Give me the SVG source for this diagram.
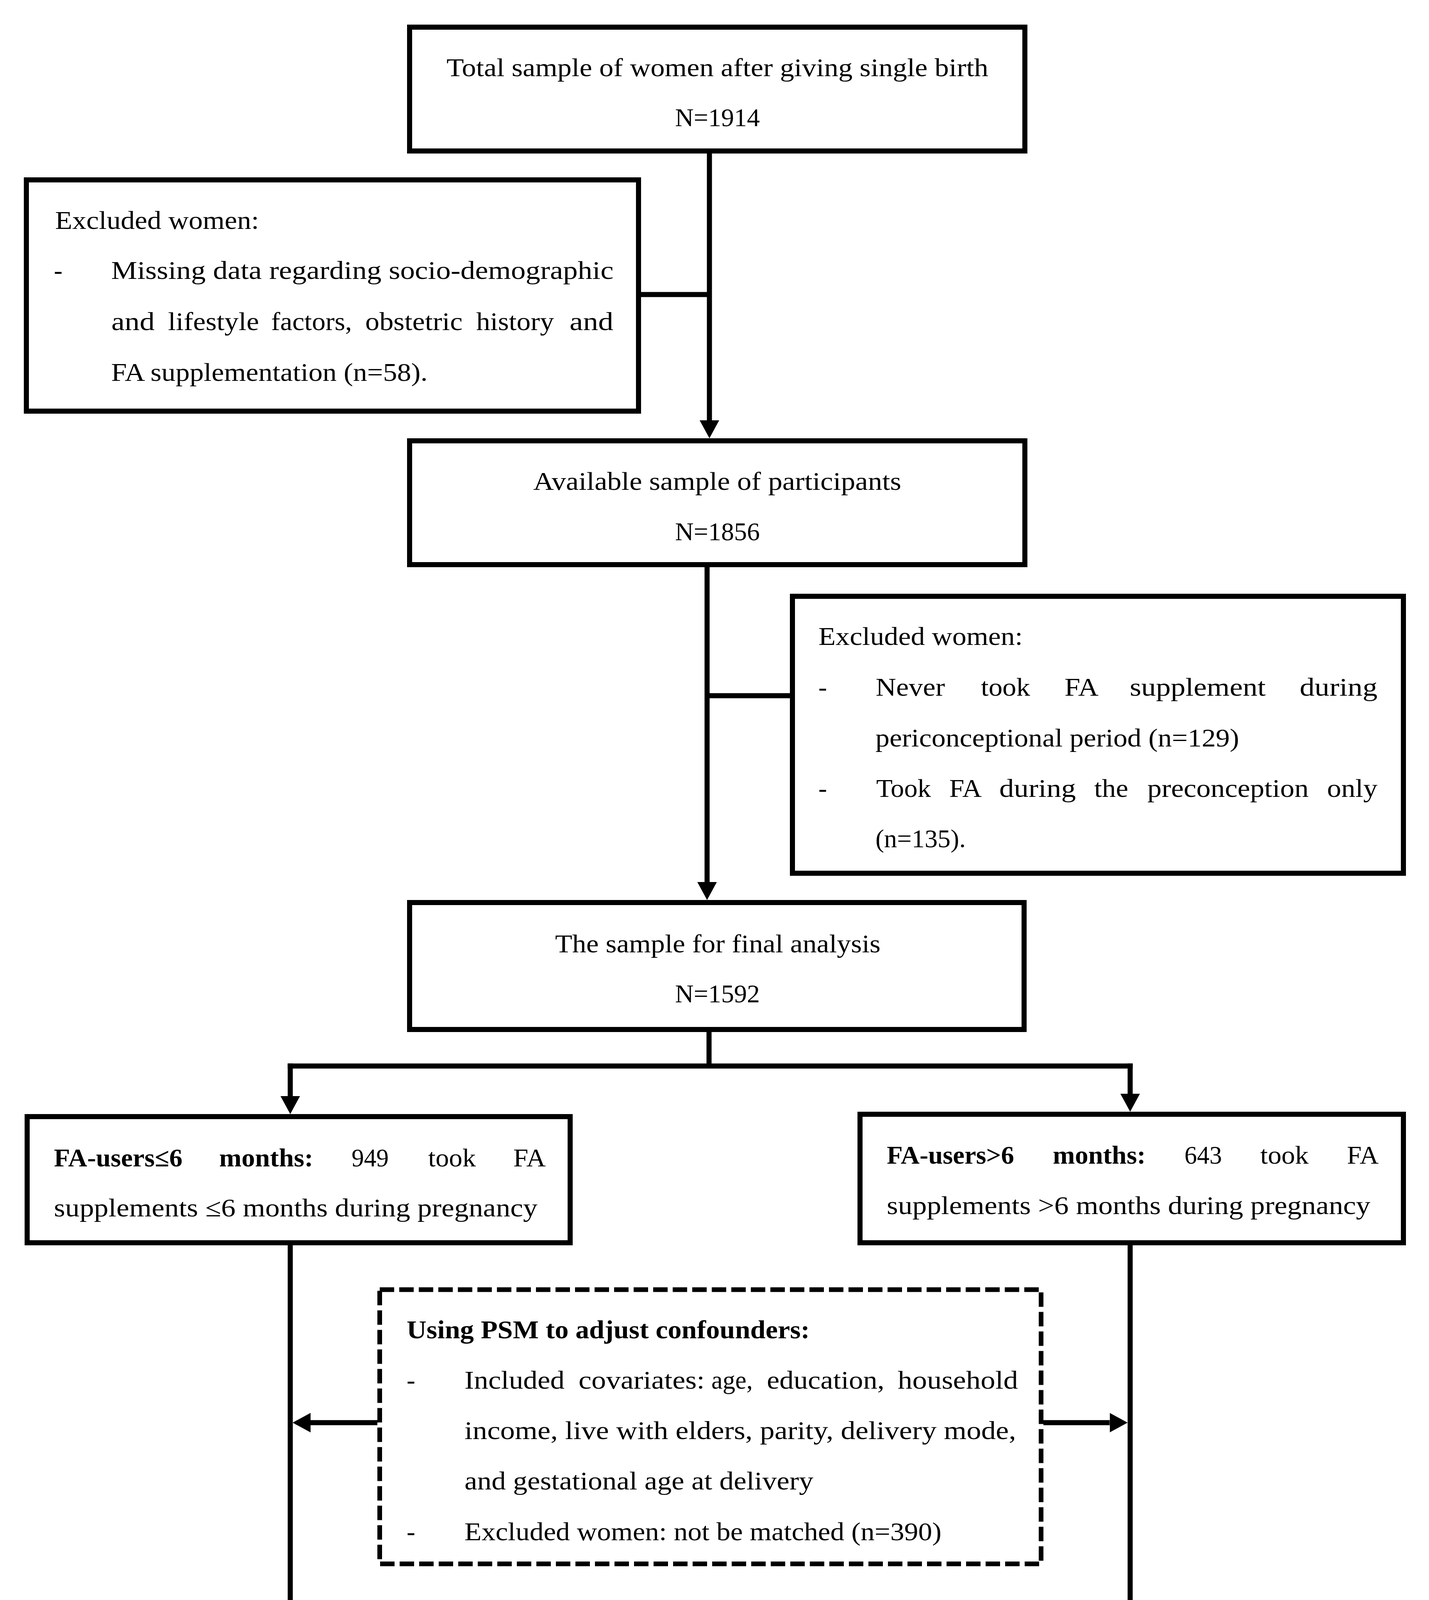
<svg xmlns="http://www.w3.org/2000/svg" width="3658" height="4548" viewBox="0 0 3658 4548">
<style>
.box{fill:#fff;stroke:#000;stroke-width:13}
.dash{fill:#fff;stroke:#000;stroke-width:12;stroke-dasharray:37 13}
.ln{fill:none;stroke:#000;stroke-width:13}
.arr{fill:none;stroke:#000;stroke-width:13;marker-end:url(#ah)}
text{font-family:"Liberation Serif","Times New Roman",serif;font-size:66px;fill:#000}
.b{font-weight:bold}
</style>
<defs>
<marker id="ah" markerUnits="userSpaceOnUse" markerWidth="46" markerHeight="50" viewBox="0 0 46 50" refX="0" refY="25" orient="auto">
<path d="M0,0 L46,25 L0,50 Z" fill="#000"/>
</marker>
</defs>
<rect width="3658" height="4548" fill="#fff"/>

<g id="connectors">
<line class="arr" x1="1816" y1="393" x2="1816" y2="1076"/>
<line class="ln" x1="1641" y1="754" x2="1822" y2="754"/>
<line class="arr" x1="1810" y1="1452" x2="1810" y2="2258"/>
<line class="ln" x1="1804" y1="1781" x2="2022" y2="1781"/>
<line class="ln" x1="1815" y1="2642" x2="1815" y2="2729"/>
<line class="ln" x1="736.5" y1="2729" x2="2899.5" y2="2729"/>
<line class="arr" x1="743" y1="2722.5" x2="743" y2="2806"/>
<line class="arr" x1="2893" y1="2722.5" x2="2893" y2="2800"/>
<line class="arr" x1="743" y1="3188" x2="743" y2="4108"/>
<line class="arr" x1="2893" y1="3188" x2="2893" y2="4102"/>
<line class="arr" x1="966" y1="3642" x2="795" y2="3642"/>
<line class="arr" x1="2671" y1="3642" x2="2840.5" y2="3642"/>
</g>

<g id="n1">
<rect class="box" x="1048.5" y="69.5" width="1575" height="317"/>
<text x="1143" y="195" textLength="1387" lengthAdjust="spacingAndGlyphs">Total sample of women after giving single birth</text>
<text x="1728" y="323" textLength="217" lengthAdjust="spacingAndGlyphs">N=1914</text>
</g>

<g id="n2">
<rect class="box" x="67.5" y="460.5" width="1567" height="592"/>
<text x="141" y="586" textLength="522" lengthAdjust="spacingAndGlyphs">Excluded women:</text>
<text x="138" y="714">-</text>
<text x="284.5" y="714" textLength="1286" lengthAdjust="spacingAndGlyphs">Missing data regarding socio-demographic</text>
<text x="285" y="845" textLength="111" lengthAdjust="spacingAndGlyphs">and</text>
<text x="430" y="845" textLength="233" lengthAdjust="spacingAndGlyphs">lifestyle</text>
<text x="694" y="845" textLength="207" lengthAdjust="spacingAndGlyphs">factors,</text>
<text x="935" y="845" textLength="249" lengthAdjust="spacingAndGlyphs">obstetric</text>
<text x="1219" y="845" textLength="199" lengthAdjust="spacingAndGlyphs">history</text>
<text x="1458" y="845" textLength="112" lengthAdjust="spacingAndGlyphs">and</text>
<text x="284.5" y="975" textLength="810" lengthAdjust="spacingAndGlyphs">FA supplementation (n=58).</text>
</g>

<g id="n3">
<rect class="box" x="1048.5" y="1128.5" width="1575" height="317"/>
<text x="1365" y="1254" textLength="942" lengthAdjust="spacingAndGlyphs">Available sample of participants</text>
<text x="1728" y="1383" textLength="217" lengthAdjust="spacingAndGlyphs">N=1856</text>
</g>

<g id="n4">
<rect class="box" x="2028.5" y="1526.5" width="1564" height="709"/>
<text x="2095" y="1651" textLength="523" lengthAdjust="spacingAndGlyphs">Excluded women:</text>
<text x="2095" y="1781">-</text>
<text x="2241.5" y="1781" textLength="177.5" lengthAdjust="spacingAndGlyphs">Never</text>
<text x="2511" y="1781" textLength="126" lengthAdjust="spacingAndGlyphs">took</text>
<text x="2725" y="1781" textLength="87" lengthAdjust="spacingAndGlyphs">FA</text>
<text x="2892" y="1781" textLength="348" lengthAdjust="spacingAndGlyphs">supplement</text>
<text x="3327" y="1781" textLength="199" lengthAdjust="spacingAndGlyphs">during</text>
<text x="2241" y="1911" textLength="931" lengthAdjust="spacingAndGlyphs">periconceptional period (n=129)</text>
<text x="2095" y="2040">-</text>
<text x="2243" y="2040" textLength="140" lengthAdjust="spacingAndGlyphs">Took</text>
<text x="2430" y="2040" textLength="83" lengthAdjust="spacingAndGlyphs">FA</text>
<text x="2558" y="2040" textLength="196" lengthAdjust="spacingAndGlyphs">during</text>
<text x="2801" y="2040" textLength="87" lengthAdjust="spacingAndGlyphs">the</text>
<text x="2937" y="2040" textLength="413" lengthAdjust="spacingAndGlyphs">preconception</text>
<text x="3397" y="2040" textLength="129" lengthAdjust="spacingAndGlyphs">only</text>
<text x="2241" y="2169" textLength="231" lengthAdjust="spacingAndGlyphs">(n=135).</text>
</g>

<g id="n5">
<rect class="box" x="1048.5" y="2310.5" width="1573" height="325"/>
<text x="1421" y="2438" textLength="833" lengthAdjust="spacingAndGlyphs">The sample for final analysis</text>
<text x="1728" y="2566" textLength="217" lengthAdjust="spacingAndGlyphs">N=1592</text>
</g>

<g id="n6">
<rect class="box" x="69.5" y="2858.5" width="1390" height="323"/>
<text class="b" x="138" y="2986" textLength="329" lengthAdjust="spacingAndGlyphs">FA-users≤6</text>
<text class="b" x="561" y="2986" textLength="241" lengthAdjust="spacingAndGlyphs">months:</text>
<text x="900" y="2986" textLength="95" lengthAdjust="spacingAndGlyphs">949</text>
<text x="1096" y="2986" textLength="122" lengthAdjust="spacingAndGlyphs">took</text>
<text x="1314" y="2986" textLength="83" lengthAdjust="spacingAndGlyphs">FA</text>
<text x="138" y="3114" textLength="1238" lengthAdjust="spacingAndGlyphs">supplements ≤6 months during pregnancy</text>
</g>

<g id="n7">
<rect class="box" x="2201.5" y="2852.5" width="1391" height="329"/>
<text class="b" x="2270" y="2979" textLength="326" lengthAdjust="spacingAndGlyphs">FA-users&gt;6</text>
<text class="b" x="2695" y="2979" textLength="238" lengthAdjust="spacingAndGlyphs">months:</text>
<text x="3032" y="2979" textLength="96" lengthAdjust="spacingAndGlyphs">643</text>
<text x="3226" y="2979" textLength="124" lengthAdjust="spacingAndGlyphs">took</text>
<text x="3448" y="2979" textLength="81" lengthAdjust="spacingAndGlyphs">FA</text>
<text x="2270" y="3108" textLength="1238" lengthAdjust="spacingAndGlyphs">supplements &gt;6 months during pregnancy</text>
</g>

<g id="n8">
<rect class="dash" x="972" y="3301.5" width="1693" height="702"/>
<text class="b" x="1041" y="3426" textLength="1032" lengthAdjust="spacingAndGlyphs">Using PSM to adjust confounders:</text>
<text x="1041" y="3555">-</text>
<text x="1189" y="3555" textLength="256" lengthAdjust="spacingAndGlyphs">Included</text>
<text x="1481" y="3555" textLength="323" lengthAdjust="spacingAndGlyphs">covariates:</text>
<text x="1821" y="3555" textLength="106" lengthAdjust="spacingAndGlyphs">age,</text>
<text x="1963" y="3555" textLength="301" lengthAdjust="spacingAndGlyphs">education,</text>
<text x="2298" y="3555" textLength="308" lengthAdjust="spacingAndGlyphs">household</text>
<text x="1189" y="3684" textLength="1412" lengthAdjust="spacingAndGlyphs">income, live with elders, parity, delivery mode,</text>
<text x="1189" y="3813" textLength="893" lengthAdjust="spacingAndGlyphs">and gestational age at delivery</text>
<text x="1041" y="3943">-</text>
<text x="1189" y="3943" textLength="1221" lengthAdjust="spacingAndGlyphs">Excluded women: not be matched (n=390)</text>
</g>

<g id="n9">
<rect class="box" x="69.5" y="4160.5" width="1390" height="317"/>
<text class="b" x="138" y="4287" textLength="329" lengthAdjust="spacingAndGlyphs">FA-users≤6</text>
<text class="b" x="548" y="4287" textLength="240" lengthAdjust="spacingAndGlyphs">months:</text>
<text x="873" y="4287" textLength="90" lengthAdjust="spacingAndGlyphs">601</text>
<text x="1054" y="4287" textLength="179" lengthAdjust="spacingAndGlyphs">taking</text>
<text x="1316" y="4287" textLength="81" lengthAdjust="spacingAndGlyphs">FA</text>
<text x="138" y="4415" textLength="1238" lengthAdjust="spacingAndGlyphs">supplements ≤6 months during pregnancy</text>
</g>

<g id="n10">
<rect class="box" x="2201.5" y="4154.5" width="1391" height="323"/>
<text class="b" x="2270" y="4280" textLength="326" lengthAdjust="spacingAndGlyphs">FA-users&gt;6</text>
<text class="b" x="2681" y="4280" textLength="238" lengthAdjust="spacingAndGlyphs">months:</text>
<text x="3004" y="4280" textLength="90" lengthAdjust="spacingAndGlyphs">601</text>
<text x="3187" y="4280" textLength="177" lengthAdjust="spacingAndGlyphs">taking</text>
<text x="3448" y="4280" textLength="81" lengthAdjust="spacingAndGlyphs">FA</text>
<text x="2270" y="4408" textLength="1238" lengthAdjust="spacingAndGlyphs">supplements &gt;6 months during pregnancy</text>
</g>
</svg>
